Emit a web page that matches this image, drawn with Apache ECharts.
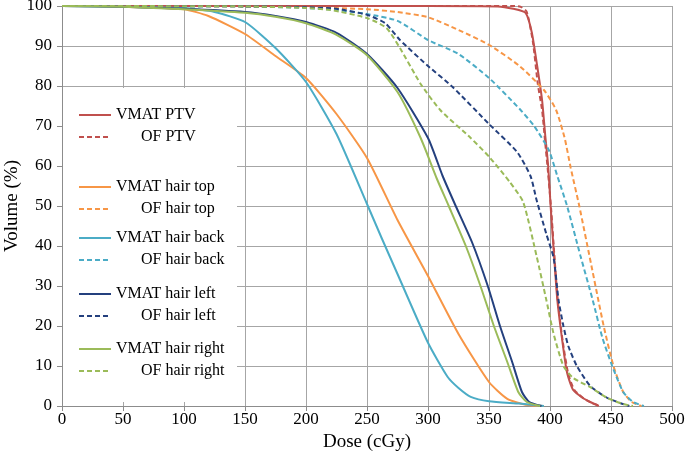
<!DOCTYPE html>
<html lang="en">
<head>
    <meta charset="UTF-8">
    <script src="https://cdnjs.cloudflare.com/ajax/libs/echarts/6.0.0/echarts.min.js"></script>
</head>
<body style="margin:0;background:#fff;">

<div id="main" style="width: 685px;height:461px;"></div>

<script type="text/javascript">
    // dose (cGy), volume (%) pairs
    var vmatPtv = [[0,100],[300,100],[357,99.9],[370,99.3],[380,98.3],[385,93.5],[389.5,85],[393.5,76.5],[396,68],[398.5,60],[400.5,50],[403,39],[406,26.5],[410,16.5],[414,8.3],[419,4],[427,2],[433,1],[440,0]];
    var ofPtv = [[0,100],[370,100],[376,99.8],[381,98.5],[386,91],[390,80.5],[393.5,74],[396,66],[398.5,58],[401,49],[403.5,38],[406.5,26],[410.5,16],[415,8],[420,4],[428,1.8],[434,0.8],[441,0]];
    var vmatTop = [[0,100],[50,99.8],[100,99.2],[120,97.5],[150,93],[175,87.5],[200,82],[225,73],[250,62],[275,46.5],[300,32.5],[325,18],[350,6],[365,1.8],[380,0.3],[395,0]];
    var ofTop = [[0,100],[100,100],[150,99.9],[200,99.7],[250,99.2],[275,98.5],[300,97.2],[325,94],[350,90.3],[375,85],[395,79],[405,74],[412,67],[417,59.5],[424,50],[434,35],[444,20],[452,10],[460,3.5],[467,1],[475,0]];
    var vmatBack = [[0,100],[50,99.8],[100,99.5],[125,98.5],[150,96],[175,89.5],[200,81],[225,68],[250,50.5],[262,42],[275,33],[300,15.8],[316,7.3],[325,4.5],[335,2.3],[350,1.2],[375,0.6],[395,0]];
    var ofBack = [[0,100],[150,99.9],[200,99.5],[225,99],[250,98],[275,96.3],[300,91.5],[325,88],[350,82],[375,74.3],[387,70],[399,64],[406,57.5],[414,50],[425,37.5],[435,26.5],[443,17],[451,10],[460,3.5],[468,1],[477,0]];
    var vmatLeft = [[0,100],[50,99.8],[100,99.3],[150,98.5],[175,97.5],[200,96],[225,93.3],[250,88],[275,79.5],[300,67],[312,57.5],[322,50.5],[336,41],[349,30],[359,20],[369,11],[377,3.5],[383,1],[393,0]];
    var ofLeft = [[0,100],[150,99.9],[200,99.7],[225,99.3],[250,97.8],[265,95.7],[277,91.5],[300,85],[320,79.8],[350,70.5],[373,63.5],[384,57.5],[389,51.5],[397,43],[403,37],[407,26.5],[411,20],[415,15],[422,10],[433,5],[447,2],[458,0.7],[465,0]];
    var vmatRight = [[0,100],[50,99.8],[100,99.2],[150,98.3],[175,97.3],[200,95.7],[225,92.8],[250,87.7],[275,78.5],[294,67],[307,57],[317,50],[331,40],[343,30],[354,20],[365,11],[374,3.5],[381,1],[392,0]];
    var ofRight = [[0,100],[150,99.9],[200,99.5],[220,99],[250,97],[266,94.5],[277,89.5],[294,80.5],[310,74],[335,67],[351,62],[367,56],[378,51],[389,37.5],[397,26.5],[403,18],[411,10],[419,7],[433,4.7],[447,2],[460,0.5],[468,0]];

    var names = ['VMAT PTV', 'OF PTV', 'VMAT hair top', 'OF hair top', 'VMAT hair back', 'OF hair back',
        'VMAT hair left', 'OF hair left', 'VMAT hair right', 'OF hair right'];
    var curves = [vmatPtv, ofPtv, vmatTop, ofTop, vmatBack, ofBack, vmatLeft, ofLeft, vmatRight, ofRight];
    var colors = ['#C0504D', '#F79646', '#4BACC6', '#24407E', '#9BBB59'];
    var legendTops = [107, 179, 230, 286, 341];

    var font = 'Liberation Serif';
    var myChart = echarts.init(document.getElementById('main'));

    var series = [];
    for (var i = 0; i < curves.length; i++) {
        series.push({
            name: names[i],
            type: 'line',
            data: curves[i],
            symbol: 'none',
            smooth: 0.2,
            color: colors[Math.floor(i / 2)],
            lineStyle: {
                width: 2,
                type: i % 2 ? [5, 3] : 'solid'
            },
            z: 3
        });
    }

    // one small legend per pair, placed like the original boxes
    var legends = [];
    for (var p = 0; p < 5; p++) {
        legends.push({
            data: [names[2 * p], names[2 * p + 1]],
            orient: 'vertical',
            left: 78,
            top: legendTops[p],
            padding: 0,
            itemWidth: 32,
            itemHeight: 14,
            itemGap: 6,
            selectedMode: false,
            // hide the marker dot, keep only the line sample
            itemStyle: {opacity: 0, color: 'rgba(0,0,0,0)', borderColor: 'rgba(0,0,0,0)', borderWidth: 0},
            formatter: function (name) {
                return name.indexOf('OF') === 0 ? '{pad|}' + name : name;
            },
            textStyle: {
                fontFamily: font,
                fontSize: 16,
                lineHeight: 16,
                color: '#000',
                rich: {pad: {width: 25}}
            }
        });
    }

    var axisGray = '#8c8c8c';
    var option = {
        animation: false,
        grid: {left: 62, right: 13, top: 6, bottom: 55, containLabel: false, outerBoundsMode: 'none'},
        graphic: [{
            type: 'rect',
            shape: {x: 63, y: 88, width: 174, height: 314},
            style: {fill: '#fff'},
            z: 1
        }],
        legend: legends,
        xAxis: {
            type: 'value',
            min: 0,
            max: 500,
            interval: 50,
            name: 'Dose (cGy)',
            nameLocation: 'middle',
            nameGap: 27,
            nameMoveOverlap: false,
            nameTextStyle: {fontFamily: font, fontSize: 19, color: '#000'},
            axisLine: {show: true, lineStyle: {color: axisGray}},
            axisTick: {show: true, length: 5, lineStyle: {color: axisGray}},
            axisLabel: {fontFamily: font, fontSize: 17, color: '#000', margin: 5},
            splitLine: {show: true, lineStyle: {color: '#a6a6a6', width: 1}}
        },
        yAxis: {
            type: 'value',
            min: 0,
            max: 100,
            interval: 10,
            name: 'Volume (%)',
            nameLocation: 'middle',
            nameGap: 40,
            nameMoveOverlap: false,
            nameTextStyle: {fontFamily: font, fontSize: 19, color: '#000'},
            axisLine: {show: true, lineStyle: {color: axisGray}},
            axisTick: {show: true, length: 5, lineStyle: {color: axisGray}},
            axisLabel: {fontFamily: font, fontSize: 17, color: '#000', margin: 10},
            splitLine: {show: true, lineStyle: {color: '#a6a6a6', width: 1}}
        },
        series: series
    };

    myChart.setOption(option);
</script>
</body>
</html>
